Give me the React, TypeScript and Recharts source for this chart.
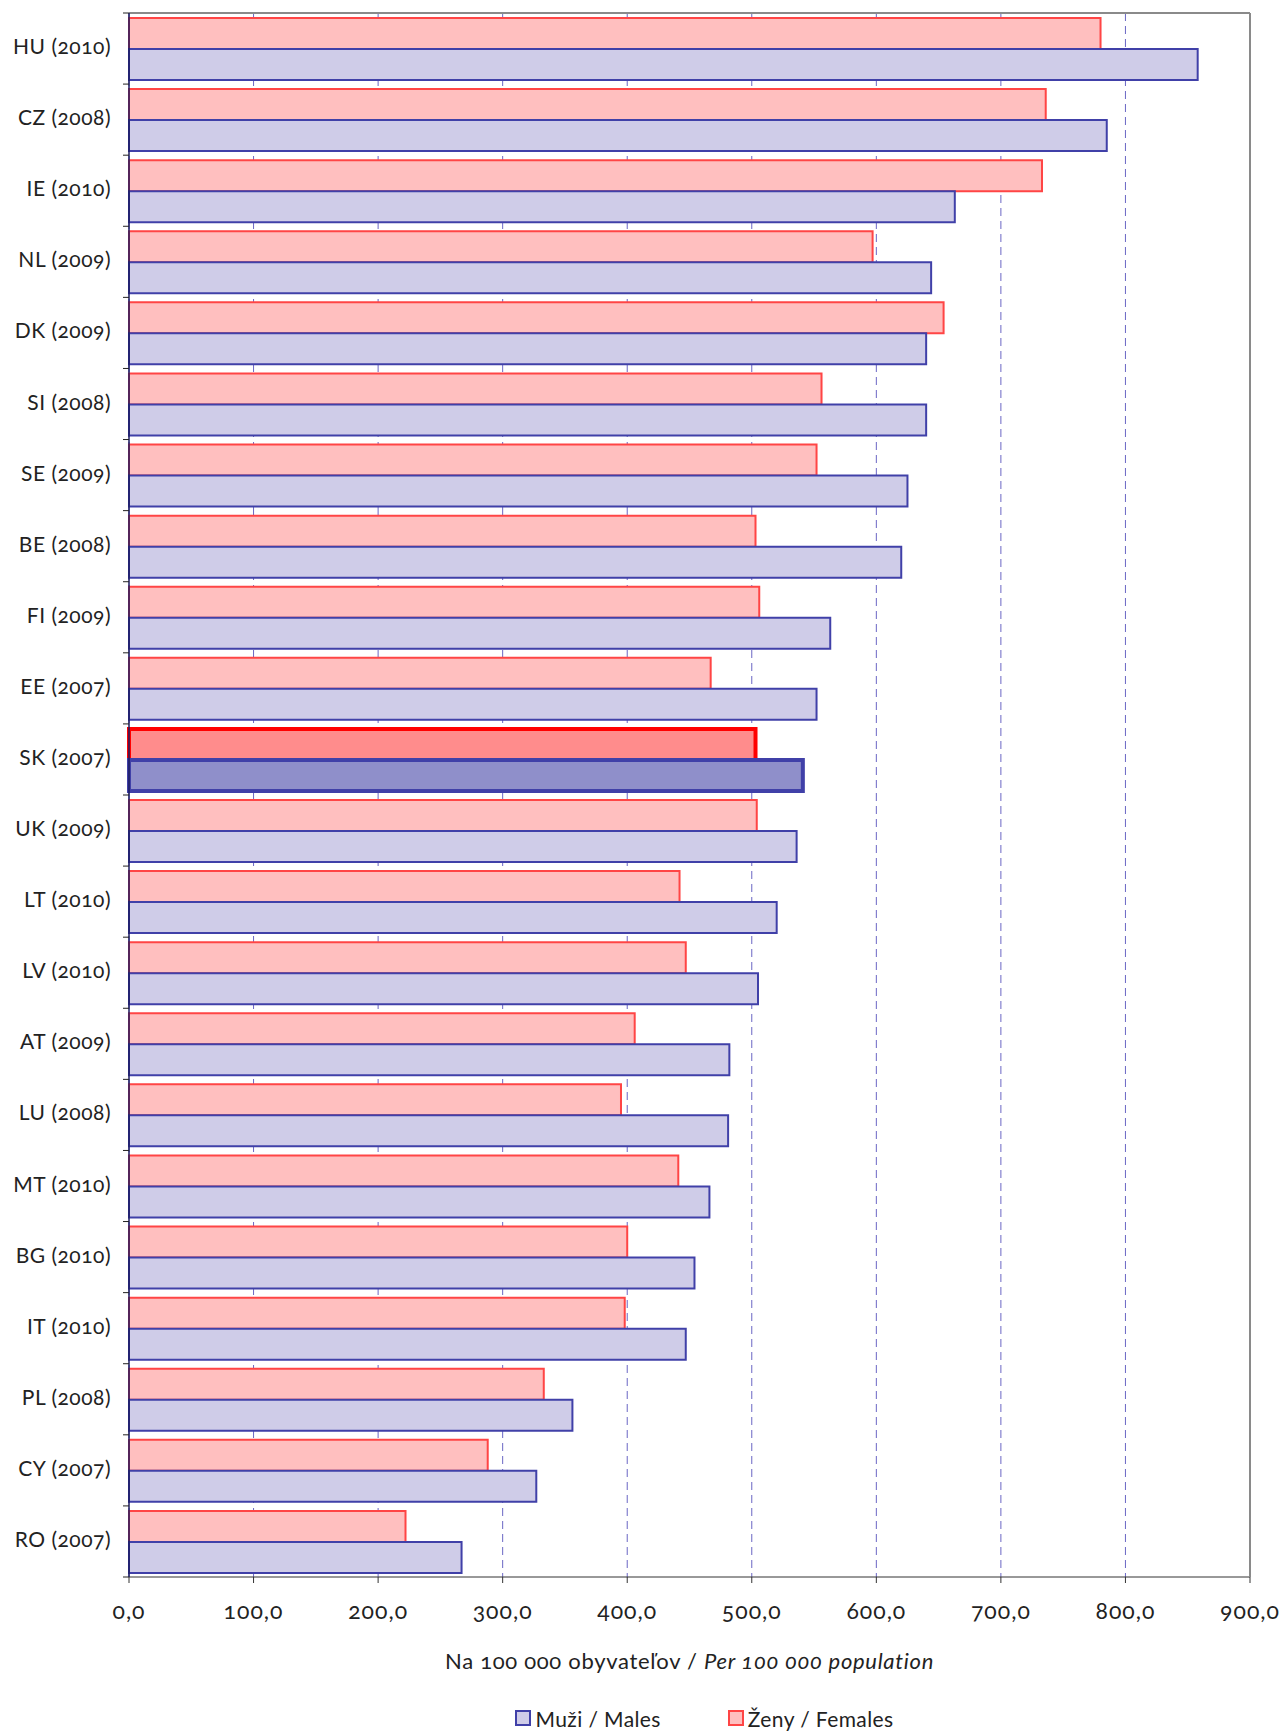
import { BarChart, Bar, Cell, XAxis, YAxis, CartesianGrid, Legend } from 'recharts';

//━━━━━━━━━━━━━━━━━━━━━━━━━━━━━━━━━━━━━━━━━━━━━━━━━━━━━━━━━━
// DATA
//━━━━━━━━━━━━━━━━━━━━━━━━━━━━━━━━━━━━━━━━━━━━━━━━━━━━━━━━━━

const countries = [
  'HU (2010)', 'CZ (2008)', 'IE (2010)', 'NL (2009)', 'DK (2009)', 'SI (2008)',
  'SE (2009)', 'BE (2008)', 'FI (2009)', 'EE (2007)', 'SK (2007)', 'UK (2009)',
  'LT (2010)', 'LV (2010)', 'AT (2009)', 'LU (2008)', 'MT (2010)', 'BG (2010)',
  'IT (2010)', 'PL (2008)', 'CY (2007)', 'RO (2007)',
];

const males = [
  858, 785, 663, 644, 640, 640, 625, 620, 563, 552, 541,
  536, 520, 505, 482, 481, 466, 454, 447, 356, 327, 267,
];

const females = [
  780, 736, 733, 597, 654, 556, 552, 503, 506, 467, 503,
  504, 442, 447, 406, 395, 441, 400, 398, 333, 288, 222,
];

const xTicks = [0, 100, 200, 300, 400, 500, 600, 700, 800, 900];

const highlight = 'SK (2007)';

const data = countries.map((country, i) => ({
  country,
  males: males[i],
  females: females[i],
}));

//━━━━━━━━━━━━━━━━━━━━━━━━━━━━━━━━━━━━━━━━━━━━━━━━━━━━━━━━━━
// STYLES
//━━━━━━━━━━━━━━━━━━━━━━━━━━━━━━━━━━━━━━━━━━━━━━━━━━━━━━━━━━

const colors = {
  maleFill: '#cfcce8',
  maleStroke: '#4040a8',
  maleFillHi: '#8f8fca',
  femaleFill: '#ffbfbf',
  femaleStroke: '#ff4545',
  femaleFillHi: '#ff8c8c',
  femaleStrokeHi: '#ff0000',
  grid: '#6a66c4',
  frame: '#8a8a8a',
  text: '#222222',
};

const W = 1284;
const H = 1731;
const PLOT_TOP = 13;
const PLOT_BOTTOM = 1577;
const BAND = (PLOT_BOTTOM - PLOT_TOP) / countries.length;
const TICK_SIZE = 6;
const TICK_MARGIN = 12;

function CategoryTick(props: any) {
  const { x, y, payload, index } = props;
  const axisX = x + TICK_SIZE + TICK_MARGIN;
  const top = y - BAND / 2;
  return (
    <g>
      <line x1={axisX - TICK_SIZE} x2={axisX} y1={top} y2={top} stroke="#222" strokeWidth={1} />
      {index === countries.length - 1 && (
        <line x1={axisX - TICK_SIZE} x2={axisX} y1={top + BAND} y2={top + BAND} stroke="#222" strokeWidth={1} />
      )}
      <text
        x={x}
        y={y - 3}
        textAnchor="end"
        dominantBaseline="central"
        fontSize={21}
        letterSpacing={0.5}
        fill={colors.text}
      >
        {payload.value}
      </text>
    </g>
  );
}

function AxisTitle(props: any) {
  const vb = props.viewBox;
  return (
    <text
      x={vb.x + vb.width / 2}
      y={vb.y + 92}
      textAnchor="middle"
      fontSize={22}
      letterSpacing={0.7}
      fill={colors.text}
    >
      <tspan>Na 100 000 obyvateľov / </tspan>
      <tspan fontStyle="italic">Per 100 000 population</tspan>
    </text>
  );
}

function LegendBox(): React.ReactElement {
  const swatch = (fill: string, stroke: string) => (
    <span
      style={{
        display: 'inline-block',
        width: 12,
        height: 12,
        background: fill,
        border: `2px solid ${stroke}`,
        marginRight: 4,
      }}
    />
  );
  return (
    <div
      style={{
        height: 26,
        display: 'flex',
        justifyContent: 'center',
        alignItems: 'center',
        fontSize: 21,
        letterSpacing: 0.4,
        color: colors.text,
        paddingLeft: 158,
      }}
    >
      <span style={{ display: 'flex', alignItems: 'center', marginRight: 67 }}>
        {swatch(colors.maleFill, colors.maleStroke)}Muži / Males
      </span>
      <span style={{ display: 'flex', alignItems: 'center' }}>
        {swatch(colors.femaleFill, colors.femaleStroke)}Ženy / Females
      </span>
    </div>
  );
}

export default function App(): React.ReactElement {
  return (
    <div style={{ fontFamily: 'Lato, "Open Sans", sans-serif', fontVariantNumeric: 'oldstyle-nums' }}>
      <style>{'body{margin:0}'}</style>
      <BarChart
        layout="vertical"
        width={W}
        height={H}
        data={data}
        margin={{ top: PLOT_TOP - 1, right: 33, left: 0, bottom: 0 }}
        barSize={31}
        barGap={0}
      >
        <CartesianGrid horizontal={false} stroke={colors.grid} strokeDasharray="8 5" />
        <XAxis
          type="number"
          domain={[0, 900]}
          ticks={xTicks}
          interval={0}
          tickFormatter={(v: number) => v.toFixed(1).replace('.', ',')}
          height={128}
          tickSize={6}
          tickMargin={20}
          axisLine={{ stroke: '#333' }}
          tickLine={{ stroke: '#333' }}
          tick={{ fontSize: 23, fill: colors.text, letterSpacing: 1 }}
          label={<AxisTitle />}
        />
        <XAxis
          xAxisId="top"
          orientation="top"
          type="number"
          domain={[0, 900]}
          height={1}
          tick={false}
          tickLine={false}
          axisLine={{ stroke: colors.frame, strokeWidth: 2 }}
        />
        <YAxis
          type="category"
          dataKey="country"
          width={129}
          interval={0}
          tickSize={TICK_SIZE}
          tickMargin={TICK_MARGIN}
          tickLine={false}
          axisLine={{ stroke: '#1a1a60', strokeWidth: 1.5 }}
          tick={<CategoryTick />}
        />
        <YAxis
          yAxisId="right"
          orientation="right"
          type="category"
          dataKey="country"
          width={1}
          tick={false}
          tickLine={false}
          axisLine={{ stroke: colors.frame, strokeWidth: 2 }}
        />
        <Legend verticalAlign="bottom" align="center" content={<LegendBox />} />
        <Bar dataKey="females" name="Ženy / Females" fill={colors.femaleFill} stroke={colors.femaleStroke} strokeWidth={2} isAnimationActive={false}>
          {data.map((d) => (
            <Cell
              key={d.country}
              fill={d.country === highlight ? colors.femaleFillHi : colors.femaleFill}
              stroke={d.country === highlight ? colors.femaleStrokeHi : colors.femaleStroke}
              strokeWidth={d.country === highlight ? 4 : 2}
            />
          ))}
        </Bar>
        <Bar dataKey="males" name="Muži / Males" fill={colors.maleFill} stroke={colors.maleStroke} strokeWidth={2} isAnimationActive={false}>
          {data.map((d) => (
            <Cell
              key={d.country}
              fill={d.country === highlight ? colors.maleFillHi : colors.maleFill}
              stroke={colors.maleStroke}
              strokeWidth={d.country === highlight ? 4 : 2}
            />
          ))}
        </Bar>
      </BarChart>
    </div>
  );
}
